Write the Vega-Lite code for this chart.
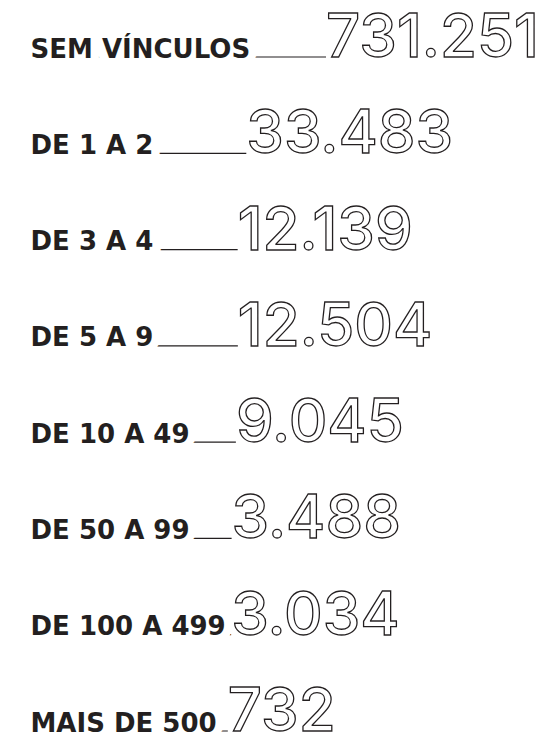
{
  "$schema": "https://vega.github.io/schema/vega-lite/v6.json",
  "width": 514,
  "height": 746,
  "autosize": "none",
  "padding": {"left": 30, "top": 0, "right": 0, "bottom": 0},
  "background": "white",
  "config": {
    "view": {"stroke": null},
    "locale": {"number": {"decimal": ",", "thousands": ".", "grouping": [3], "currency": ["R$ ", ""]}}
  },
  "data": {
    "values": [
      {"faixa": "SEM VÍNCULOS", "valor": 731251},
      {"faixa": "DE 1 A 2", "valor": 33483},
      {"faixa": "DE 3 A 4", "valor": 12139},
      {"faixa": "DE 5 A 9", "valor": 12504},
      {"faixa": "DE 10 A 49", "valor": 9045},
      {"faixa": "DE 50 A 99", "valor": 3488},
      {"faixa": "DE 100 A 499", "valor": 3034},
      {"faixa": "MAIS DE 500", "valor": 732}
    ]
  },
  "encoding": {
    "y": {
      "field": "faixa",
      "type": "nominal",
      "sort": null,
      "scale": {"type": "point", "range": [57, 731], "padding": 0},
      "axis": {
        "title": null,
        "orient": "left",
        "domain": false,
        "ticks": false,
        "tickSize": 0,
        "labelPadding": 0,
        "labelAlign": "left",
        "labelBaseline": "alphabetic",
        "labelFont": "DejaVu Sans",
        "labelFontWeight": "bold",
        "labelFontSize": 26,
        "labelColor": "#231f20",
        "labelLimit": 400,
        "labelFlush": false,
        "labelOverlap": false,
        "grid": false,
        "zindex": 1
      }
    }
  },
  "layer": [
    {
      "mark": {"type": "rule", "color": "#231f20", "strokeWidth": 1.2},
      "encoding": {
        "x": {"field": "valor", "type": "quantitative", "scale": {"type": "sqrt", "domain": [0, 731251], "range": [194.6, 296], "zero": false, "nice": false}, "axis": null},
        "x2": {"value": 0}
      }
    },
    {
      "mark": {"type": "text", "align": "left", "baseline": "alphabetic", "font": "DejaVu Sans", "fontWeight": "bold", "fontSize": 26, "fill": "white", "stroke": "white", "strokeWidth": 18},
      "encoding": {
        "x": {"value": 0},
        "text": {"field": "faixa", "type": "nominal"}
      }
    },
    {
      "mark": {"type": "text", "align": "left", "baseline": "alphabetic", "font": "Inter", "fontWeight": 500, "fontSize": 60, "fill": "white", "stroke": "#231f20", "strokeWidth": 1.3},
      "encoding": {
        "x": {"field": "valor", "type": "quantitative", "scale": {"type": "sqrt", "domain": [0, 731251], "range": [194.6, 296], "zero": false, "nice": false}, "axis": null},
        "text": {"field": "valor", "type": "quantitative", "format": ",d"}
      }
    }
  ]
}
